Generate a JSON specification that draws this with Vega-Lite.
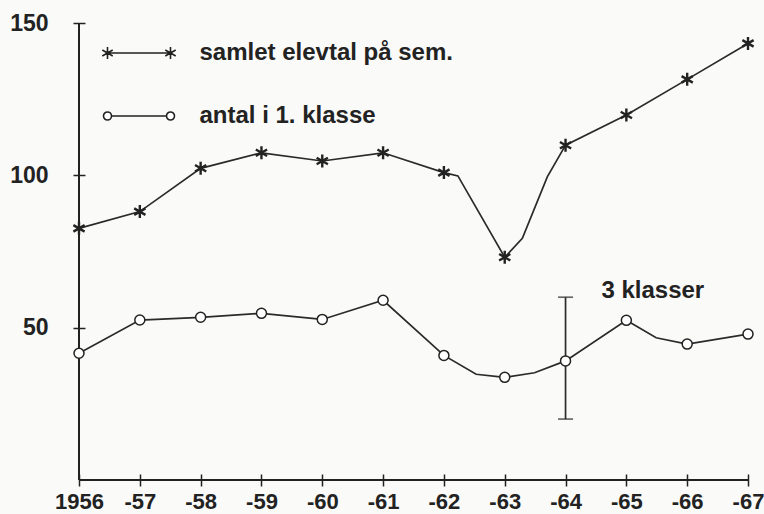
{
  "$schema": "https://vega.github.io/schema/vega-lite/v6.json",
  "width": 669,
  "height": 457,
  "autosize": {"type": "none"},
  "padding": {"left": 79, "top": 23, "right": 16, "bottom": 34},
  "background": "#fafaf8",
  "config": {
    "view": {"stroke": null},
    "font": "Liberation Sans"
  },
  "datasets": {
    "series": [
      {"year": 1956, "value": 82.6, "series": "samlet elevtal på sem.", "marker": true},
      {"year": 1957, "value": 88.1, "series": "samlet elevtal på sem.", "marker": true},
      {"year": 1958, "value": 102.3, "series": "samlet elevtal på sem.", "marker": true},
      {"year": 1959, "value": 107.4, "series": "samlet elevtal på sem.", "marker": true},
      {"year": 1960, "value": 104.7, "series": "samlet elevtal på sem.", "marker": true},
      {"year": 1961, "value": 107.4, "series": "samlet elevtal på sem.", "marker": true},
      {"year": 1962, "value": 100.9, "series": "samlet elevtal på sem.", "marker": true},
      {"year": 1962.23, "value": 99.8, "series": "samlet elevtal på sem.", "marker": false},
      {"year": 1963, "value": 73.1, "series": "samlet elevtal på sem.", "marker": true},
      {"year": 1963.29, "value": 79.3, "series": "samlet elevtal på sem.", "marker": false},
      {"year": 1963.7, "value": 99.5, "series": "samlet elevtal på sem.", "marker": false},
      {"year": 1964, "value": 109.9, "series": "samlet elevtal på sem.", "marker": true},
      {"year": 1965, "value": 119.8, "series": "samlet elevtal på sem.", "marker": true},
      {"year": 1966, "value": 131.5, "series": "samlet elevtal på sem.", "marker": true},
      {"year": 1967, "value": 143.3, "series": "samlet elevtal på sem.", "marker": true},
      {"year": 1956, "value": 41.6, "series": "antal i 1. klasse", "marker": true},
      {"year": 1957, "value": 52.5, "series": "antal i 1. klasse", "marker": true},
      {"year": 1958, "value": 53.4, "series": "antal i 1. klasse", "marker": true},
      {"year": 1959, "value": 54.7, "series": "antal i 1. klasse", "marker": true},
      {"year": 1960, "value": 52.7, "series": "antal i 1. klasse", "marker": true},
      {"year": 1961, "value": 59.0, "series": "antal i 1. klasse", "marker": true},
      {"year": 1962, "value": 40.9, "series": "antal i 1. klasse", "marker": true},
      {"year": 1962.53, "value": 34.7, "series": "antal i 1. klasse", "marker": false},
      {"year": 1963, "value": 33.7, "series": "antal i 1. klasse", "marker": true},
      {"year": 1963.49, "value": 35.2, "series": "antal i 1. klasse", "marker": false},
      {"year": 1964, "value": 39.1, "series": "antal i 1. klasse", "marker": true},
      {"year": 1965, "value": 52.4, "series": "antal i 1. klasse", "marker": true},
      {"year": 1965.49, "value": 46.7, "series": "antal i 1. klasse", "marker": false},
      {"year": 1966, "value": 44.6, "series": "antal i 1. klasse", "marker": true},
      {"year": 1967, "value": 47.9, "series": "antal i 1. klasse", "marker": true}
    ],
    "range": [{"year": 1964, "lo": 20, "hi": 60}],
    "note": [{"year": 1964.59, "value": 62.1, "label": "3 klasser"}]
  },
  "data": {"name": "series"},
  "encoding": {
    "x": {
      "field": "year", "type": "quantitative",
      "scale": {"domain": [1956, 1967], "nice": false, "zero": false},
      "axis": {
        "values": [1956, 1957, 1958, 1959, 1960, 1961, 1962, 1963, 1964, 1965, 1966, 1967],
        "labelExpr": "datum.value == 1956 ? '1956' : '-' + slice(toString(datum.value), 2)",
        "offset": -6, "tickSize": 12, "tickWidth": 1.5, "tickColor": "#222",
        "domain": false, "grid": false, "title": null,
        "labelPadding": 5, "labelDx": -4, "labelFontSize": 22, "labelFontWeight": "bold", "labelColor": "#222",
        "labelFlush": false, "labelOverlap": false
      }
    },
    "y": {
      "field": "value", "type": "quantitative",
      "scale": {"domain": [0, 150], "nice": false},
      "axis": {
        "values": [50, 100, 150],
        "offset": -6, "tickSize": 12, "tickWidth": 1.5, "tickColor": "#222",
        "domain": false, "grid": false, "title": null,
        "labelPadding": 25, "labelFontSize": 23, "labelFontWeight": "bold", "labelColor": "#222"
      }
    }
  },
  "layer": [
    {
      "mark": {"type": "rule", "stroke": "#222", "strokeWidth": 1.6},
      "encoding": {"x": {"datum": 1956}, "y": {"datum": 0}, "y2": {"datum": 150}}
    },
    {
      "mark": {"type": "rule", "stroke": "#222", "strokeWidth": 1.6},
      "encoding": {"x": {"datum": 1956}, "x2": {"datum": 1967}, "y": {"datum": 0}}
    },
    {
      "transform": [{"filter": "datum.series == 'samlet elevtal på sem.'"}],
      "mark": {"type": "line", "stroke": "#2a2a2a", "strokeWidth": 1.7}
    },
    {
      "transform": [{"filter": "datum.series == 'antal i 1. klasse'"}],
      "mark": {"type": "line", "stroke": "#2a2a2a", "strokeWidth": 1.7}
    },
    {
      "data": {"name": "range"},
      "mark": {"type": "rule", "stroke": "#2a2a2a", "strokeWidth": 1.7},
      "encoding": {"y": {"field": "lo", "type": "quantitative"}, "y2": {"field": "hi"}}
    },
    {
      "data": {"name": "range"},
      "mark": {"type": "tick", "orient": "horizontal", "color": "#2a2a2a", "size": 15, "thickness": 1.7},
      "encoding": {"y": {"field": "lo", "type": "quantitative"}}
    },
    {
      "data": {"name": "range"},
      "mark": {"type": "tick", "orient": "horizontal", "color": "#2a2a2a", "size": 15, "thickness": 1.7},
      "encoding": {"y": {"field": "hi", "type": "quantitative"}}
    },
    {
      "transform": [{"filter": "datum.marker && datum.series == 'samlet elevtal på sem.'"}],
      "mark": {"type": "point", "shape": "M0,-1L0,1M-0.866,-0.5L0.866,0.5M-0.866,0.5L0.866,-0.5", "fill": "white", "fillOpacity": 1, "stroke": "#222", "strokeWidth": 2.4, "size": 169, "opacity": 1}
    },
    {
      "transform": [{"filter": "datum.marker && datum.series == 'antal i 1. klasse'"}],
      "mark": {"type": "point", "shape": "circle", "fill": "white", "fillOpacity": 1, "stroke": "#222", "strokeWidth": 1.5, "size": 100, "opacity": 1}
    },
    {
      "transform": [{"filter": "false"}],
      "mark": {"type": "point", "fill": "white", "stroke": "#222", "strokeWidth": 1.6},
      "encoding": {
        "shape": {
          "field": "series", "type": "nominal",
          "scale": {
            "domain": ["samlet elevtal på sem.", "antal i 1. klasse"],
            "range": [
              "M-0.84,0L0.84,0M-0.84,-0.16L-0.84,0.16M-0.979,-0.08L-0.701,0.08M-0.979,0.08L-0.701,-0.08M0.84,-0.16L0.84,0.16M0.701,-0.08L0.979,0.08M0.701,0.08L0.979,-0.08",
              "M-0.733,0L0.733,0M-0.947,0A0.107,0.107,0,1,0,-0.733,0A0.107,0.107,0,1,0,-0.947,0ZM0.733,0A0.107,0.107,0,1,0,0.947,0A0.107,0.107,0,1,0,0.733,0Z"
            ]
          },
          "legend": {
            "title": null,
            "orient": "none",
            "legendX": 21.5,
            "legendY": 19,
            "padding": 0,
            "symbolSize": 5625,
            "clipHeight": 22,
            "rowPadding": 39,
            "labelOffset": 22,
            "labelFont": "Liberation Sans",
            "labelFontSize": 24,
            "labelFontWeight": "bold",
            "labelColor": "#222",
            "labelLimit": 400,
            "symbolOpacity": 1,
            "symbolStrokeWidth": 1.6,
            "symbolStrokeColor": "#222",
            "symbolFillColor": "white",
            "encoding": {
              "symbols": {
                "fill": {"value": "white"},
                "stroke": {"value": "#222"},
                "strokeWidth": {"value": 1.6},
                "opacity": {"value": 1}
              }
            }
          }
        }
      }
    },
    {
      "data": {"name": "note"},
      "mark": {"type": "text", "align": "left", "baseline": "middle", "font": "Liberation Sans", "fontSize": 24, "fontWeight": "bold", "color": "#222"},
      "encoding": {"text": {"field": "label"}}
    }
  ]
}
